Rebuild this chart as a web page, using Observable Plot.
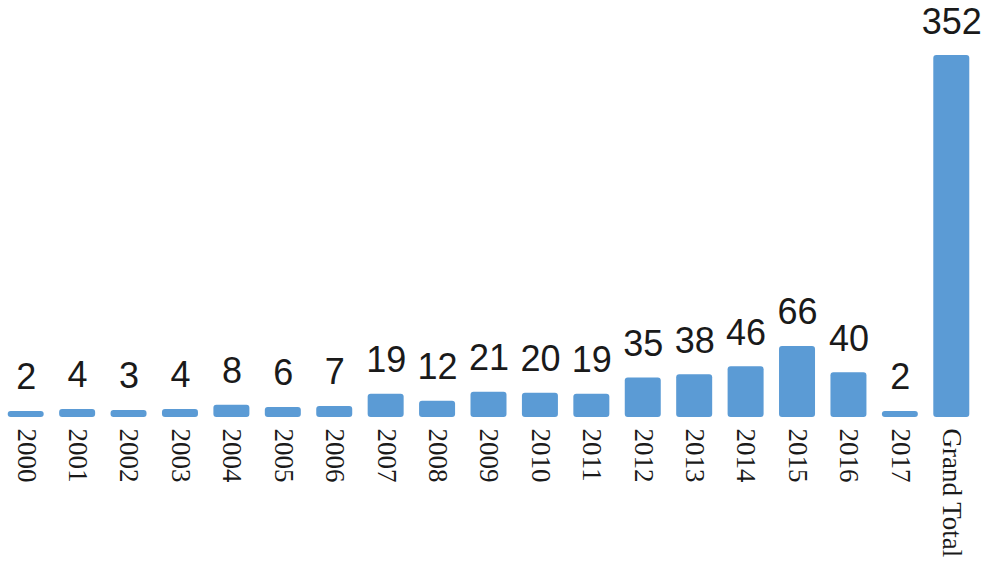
<!DOCTYPE html>
<html>
<head>
<meta charset="utf-8">
<script src="https://cdn.jsdelivr.net/npm/d3@7"></script>
<script src="https://cdn.jsdelivr.net/npm/@observablehq/plot@0.6"></script>
<style>
  html, body { margin: 0; padding: 0; background: #fff; }
</style>
</head>
<body>
<div id="chart"></div>
<script>
const categories = ["2000","2001","2002","2003","2004","2005","2006","2007","2008","2009","2010","2011","2012","2013","2014","2015","2016","2017","Grand Total"];
const counts = [2,4,3,4,8,6,7,19,12,21,20,19,35,38,46,66,40,2,352];

const data = categories.map((c, i) => ({cat: c, value: counts[i]}));

const chart = Plot.plot({
  width: 984,
  height: 561,
  marginLeft: 0,
  marginRight: 7,
  marginTop: 55,
  marginBottom: 148,
  x: {domain: categories, paddingInner: 0.3, paddingOuter: 0.15, round: false, label: null},
  y: {domain: [0, 352], axis: null},
  style: {background: "#fff"},
  marks: [
    Plot.barY(data, {x: "cat", y: "value", fill: "#5b9bd5", rx: 3, insetBottom: -4}),
    Plot.ruleY([0], {x1: 0, x2: 984, stroke: "#d6d6d6", strokeWidth: 2, strokeOpacity: 0.9}),
    Plot.text(data, {x: "cat", y: "value", text: d => String(d.value), dy: -22, lineAnchor: "bottom", fontSize: 36, fontFamily: "Liberation Sans, Arial, sans-serif", fill: "#1a1a1a"}),
    Plot.axisX({tickRotate: 90, tickSize: 0, tickPadding: 15, fontSize: 27, fontFamily: "Liberation Serif, Times New Roman, serif", fill: "#1a1a1a", label: null})
  ]
});
document.getElementById("chart").appendChild(chart);
</script>
</body>
</html>
